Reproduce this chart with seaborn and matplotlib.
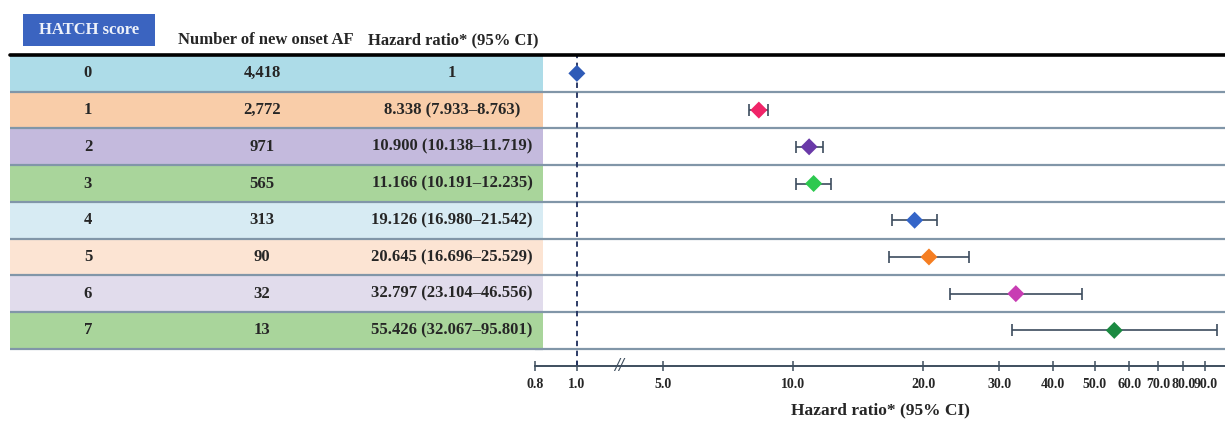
import numpy as np
import pandas as pd
import matplotlib
matplotlib.use("Agg")
import matplotlib.pyplot as plt
import matplotlib.transforms as mtransforms
import seaborn as sns

# Table / forest data
scores = ["0", "1", "2", "3", "4", "5", "6", "7"]
n_af = ["4,418", "2,772", "971", "565", "313", "90", "32", "13"]
hr = [1.0, 8.338, 10.900, 11.166, 19.126, 20.645, 32.797, 55.426]
ci_lo = [1.0, 7.933, 10.138, 10.191, 16.980, 16.696, 23.104, 32.067]
ci_hi = [1.0, 8.763, 11.719, 12.235, 21.542, 25.529, 46.556, 95.801]
hr_text = ["1", "8.338 (7.933\u20138.763)", "10.900 (10.138\u201311.719)",
           "11.166 (10.191\u201312.235)", "19.126 (16.980\u201321.542)",
           "20.645 (16.696\u201325.529)", "32.797 (23.104\u201346.556)",
           "55.426 (32.067\u201395.801)"]
row_colors = ["#ADDCE8", "#F9CDA9", "#C4BADD", "#A9D59B",
              "#D7EBF3", "#FCE4D3", "#E1DCEC", "#A9D59B"]
marker_colors = ["#2F5BB7", "#F02468", "#6A3AA8", "#2DC94F",
                 "#3465C8", "#F57E22", "#C83DB3", "#1B8A41"]
tick_vals = [0.8, 1.0, 5.0, 10.0, 20.0, 30.0, 40.0, 50.0, 60.0, 70.0, 80.0, 90.0]

df = pd.DataFrame({"score": scores, "hr": hr, "lo": ci_lo, "hi": ci_hi,
                   "row": np.arange(len(scores))})

# broken log axis: 1..5 squeezed
L5 = np.log10(5.0)
GAP = 86 / 432


def fwd(x):
    lx = np.log10(np.clip(np.asarray(x, float), 1e-6, None))
    return np.where(lx <= 0, lx, np.where(lx >= L5, lx - L5 + GAP, lx / L5 * GAP))


def inv(y):
    y = np.asarray(y, float)
    return np.where(y <= 0, 10 ** y,
                    np.where(y >= GAP, 10 ** (y + L5 - GAP), 10 ** (y / GAP * L5)))


sns.set_theme(style="white")
plt.rcParams["font.family"] = ["Liberation Serif", "DejaVu Serif"]
plt.rcParams["font.weight"] = "bold"

W, H = 1225, 423
fig = plt.figure(figsize=(W / 100, H / 100), dpi=100)

top_px, bot_px = 55, 366
ylim = (7.97, -0.5)
ax_y = 1 - bot_px / H
ax_h = (bot_px - top_px) / H
sep_color = "#8196A8"
axis_color = "#3E4E5E"

# forest plot
ax = fig.add_axes([535 / W, ax_y, 690 / W, ax_h])
ax.set_xscale("function", functions=(fwd, inv))
ax.set_xlim(0.8, 100)
ax.set_ylim(*ylim)
ax.axvline(1.0, color="#1E2D5C", ls=(0, (3, 2.5)), lw=1.3, zorder=1)
for i in range(len(scores)):
    ax.axhline(i + 0.5, color=sep_color, lw=1.6, zorder=0)
err = df.iloc[1:]
ax.errorbar(err["hr"], err["row"],
            xerr=[err["hr"] - err["lo"], err["hi"] - err["hr"]],
            fmt="none", ecolor="#3C4C5E", elinewidth=1.2, capsize=4,
            capthick=1.2, zorder=2)
sns.scatterplot(data=df, x="hr", y="row", hue="score", palette=marker_colors,
                marker="D", s=75, edgecolor="none", legend=False, ax=ax, zorder=3)
ax.set_ylim(*ylim)
ax.set_yticks([])
ax.set_ylabel("")
for s in ["top", "left", "right"]:
    ax.spines[s].set_visible(False)
ax.spines["bottom"].set_color(axis_color)
ax.spines["bottom"].set_linewidth(1.4)
ax.set_xticks(tick_vals)
ax.set_xticklabels([f"{v:.1f}" for v in tick_vals], fontsize=10, fontweight="bold")
ax.minorticks_off()
ax.tick_params(axis="x", direction="inout", length=7, width=1.1, pad=5,
               color=axis_color, bottom=True)
ax.set_xlabel("Hazard ratio* (95% CI)", fontsize=12.5, fontweight="bold", labelpad=8)
trans = mtransforms.blended_transform_factory(ax.transData, ax.transAxes)
ax.text(2.2, 0, "//", transform=trans, ha="center", va="center",
        fontsize=13, fontweight="bold", style="italic", color=axis_color)

# table part
tab = fig.add_axes([10 / W, ax_y, 533 / W, ax_h])
tab.set_facecolor("none")
tab.set_xlim(0, 533)
tab.set_ylim(*ylim)
tab.axis("off")
for i, c in enumerate(row_colors):
    tab.axhspan(i - 0.5, i + 0.5, color=c, lw=0, zorder=0)
    tab.text(78, i, scores[i], ha="center", va="center", fontsize=12, fontweight="bold")
    tab.text(252, i, n_af[i], ha="center", va="center", fontsize=12, fontweight="bold")
    tab.text(442, i, hr_text[i], ha="center", va="center", fontsize=12, fontweight="bold")
    tab.axhline(i + 0.5, color=sep_color, lw=1.6, zorder=1)

# thick header rule across full width
fig.add_artist(plt.Line2D([10 / W, 1.0], [1 - top_px / H] * 2, color="black",
                          lw=2.6, transform=fig.transFigure))

# headers
fig.add_artist(plt.Rectangle((23 / W, 1 - 46 / H), 132 / W, 32 / H,
                             transform=fig.transFigure, fc="#3B64C0", ec="none"))
fig.text(89 / W, 1 - 30 / H, "HATCH score", ha="center", va="center", color="#EEF2FA",
         fontsize=12, fontweight="bold")
fig.text(266 / W, 1 - 40 / H, "Number of new onset AF", ha="center", va="center",
         fontsize=12, fontweight="bold")
fig.text(453 / W, 1 - 40 / H, "Hazard ratio* (95% CI)", ha="center", va="center",
         fontsize=12, fontweight="bold")

fig.savefig("out.png", dpi=100)
